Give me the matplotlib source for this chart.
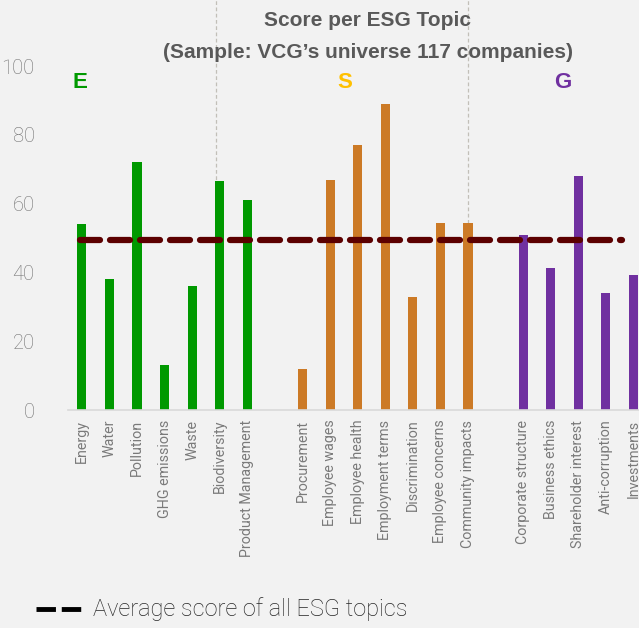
import matplotlib
matplotlib.use("Agg")
import matplotlib.pyplot as plt
import numpy as np

# ESG topic scores
e_topics = ["Energy", "Water", "Pollution", "GHG emissions", "Waste",
            "Biodiversity", "Product Management"]
e_scores = [54, 38, 72, 13, 36, 66.5, 61]
s_topics = ["Procurement", "Employee wages", "Employee health", "Employment terms",
            "Discrimination", "Employee concerns", "Community impacts"]
s_scores = [12, 67, 77, 89, 32.8, 54.5, 54.5]
g_topics = ["Corporate structure", "Business ethics", "Shareholder interest",
            "Anti-corruption", "Investments"]
g_scores = [51, 41.3, 68, 34, 39.3]
average_score = 49.5
y_ticks = [0, 20, 40, 60, 80, 100]

BG = "#F2F2F2"
GREY = "#595959"
plt.rcParams["font.family"] = ["Roboto", "DejaVu Sans"]

fig = plt.figure(figsize=(6.39, 6.28), dpi=100, facecolor=BG)
ax = fig.add_axes([68 / 639, 218 / 628, 1 - 68 / 639, 344 / 628])
ax.set_facecolor(BG)

# slot positions, with an empty slot between pillars
e_x = np.arange(len(e_topics))
s_x = e_x[-1] + 2 + np.arange(len(s_topics))
g_x = s_x[-1] + 2 + np.arange(len(g_topics))
w = 0.33
ax.bar(e_x, e_scores, width=w, color="#009900", zorder=2)
ax.bar(s_x, s_scores, width=w, color="#CC7A26", zorder=2)
ax.bar(g_x, g_scores, width=w, color="#7030A0", zorder=2)

# average line
ax.plot([e_x[0] - 0.05, g_x[-1] - 0.4], [average_score, average_score],
        color="#5C0000", lw=4.5, dashes=(3.2, 1.6), solid_capstyle="round",
        dash_capstyle="round", zorder=3)

# thin dashed separators
for xv in (4.88, s_x[-1]):
    ax.plot([xv, xv], [41.5, 120], color="#C2BFB8", lw=0.9, ls=(0, (3, 2)),
            clip_on=False, zorder=1)

ax.set_xlim(-0.5, 20.2)
ax.set_ylim(0, 100)
ax.set_yticks(y_ticks)
ax.set_yticklabels([str(t) for t in y_ticks], fontsize=14.5, color="#707070",
                   fontweight="light")
ax.tick_params(axis="y", length=0, pad=24)
all_x = np.concatenate([e_x, s_x, g_x])
ax.set_xticks(all_x)
ax.set_xticklabels(e_topics + s_topics + g_topics, rotation=90, fontsize=10.3,
                   color="#7A7A7A", fontweight="normal", va="top")
ax.tick_params(axis="x", length=0, pad=7)
for sp in ("left", "right", "top"):
    ax.spines[sp].set_visible(False)
ax.spines["bottom"].set_color("#D9D9D9")
ax.spines["bottom"].set_linewidth(1.2)

# pillar letters
for label, color, xc in (("E", "#009900", 80), ("S", "#FFC000", 345), ("G", "#7030A0", 563)):
    fig.text(xc / 639, 1 - 82 / 628, label, color=color, fontsize=16,
             fontweight="bold", ha="center", va="center",
             family=["Liberation Sans", "DejaVu Sans"])

fig.text(368 / 639, 1 - 20 / 628, "Score per ESG Topic", color=GREY,
         fontsize=15, fontweight="bold", ha="center", va="center",
         family=["Liberation Sans", "DejaVu Sans"])
fig.text(368 / 639, 1 - 52 / 628, "(Sample: VCG\u2019s universe 117 companies)",
         color=GREY, fontsize=15, fontweight="bold", ha="center", va="center",
         family=["Liberation Sans", "DejaVu Sans"])

# legend
fig.lines.append(plt.Line2D([36 / 639, 82 / 639], [1 - 609 / 628] * 2,
                            transform=fig.transFigure, color="black", lw=3.5,
                            dashes=(4, 1.2)))
fig.text(93 / 639, 1 - 609 / 628, "Average score of all ESG topics",
         color="#262626", fontsize=17, fontweight="light", va="center")

fig.savefig("out.png", dpi=100, facecolor=BG)
